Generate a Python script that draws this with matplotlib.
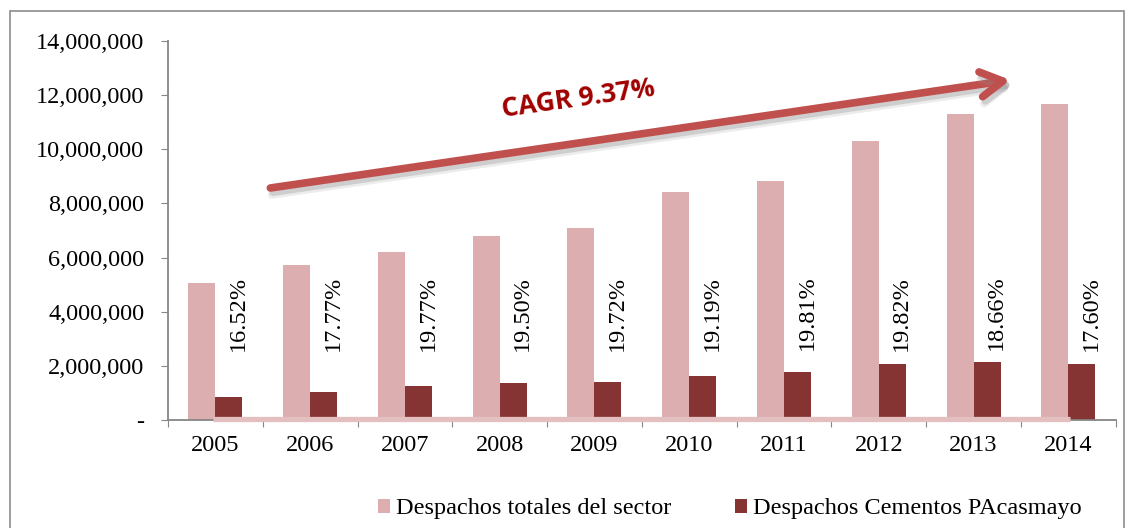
import matplotlib.pyplot as plt
import matplotlib.patheffects as pe
from matplotlib.patches import Rectangle
from matplotlib.ticker import FuncFormatter, FixedLocator
import numpy as np

years = ['2005', '2006', '2007', '2008', '2009', '2010', '2011', '2012', '2013', '2014']
sector = [5.06e6, 5.73e6, 6.19e6, 6.80e6, 7.08e6, 8.41e6, 8.83e6, 10.31e6, 11.30e6, 11.66e6]
pacasmayo = [0.86e6, 1.05e6, 1.25e6, 1.35e6, 1.41e6, 1.64e6, 1.76e6, 2.06e6, 2.13e6, 2.06e6]
shares = ['16.52%', '17.77%', '19.77%', '19.50%', '19.72%', '19.19%', '19.81%', '19.82%', '18.66%', '17.60%']
cagr_label = 'CAGR 9.37%'

pink = '#DCAEB0'
dark = '#863433'
grey = '#868686'

plt.rcParams['font.family'] = ['Liberation Serif', 'DejaVu Serif']

fig = plt.figure(figsize=(11.33, 5.28), dpi=100)
# outer frame
fig.patches.append(Rectangle((10 / 1133, -0.1), 1114 / 1133, 1.1 - 11 / 528,
                             transform=fig.transFigure, fill=False,
                             edgecolor='#8C8C8C', lw=1.2))
ax = fig.add_axes([168 / 1133, 108 / 528, 947.7 / 1133, 379 / 528])

x = np.arange(len(years))
w = 0.285
ax.bar(x - w / 2, sector, w, color=pink, label='Despachos totales del sector', zorder=2)
ax.bar(x + w / 2, pacasmayo, w, color=dark, label='Despachos Cementos PAcasmayo', zorder=2)

for i, s in enumerate(shares):
    ax.text(x[i] + w / 2 + 0.1, 3.95e6, s, rotation=90, ha='center', va='center',
            fontsize=17.5)

# pink band along the base
ax.plot([x[0] - 0.02, x[-1] + 0.02], [0.05e6, 0.05e6], color='#E3BFC0', lw=3.8,
        solid_capstyle='butt', zorder=4, clip_on=False)

ax.set_xlim(-0.5, len(years) - 0.5)
ax.set_ylim(0, 14e6)
ax.set_yticks(np.arange(0, 14.1e6, 2e6))
ax.yaxis.set_major_formatter(FuncFormatter(lambda v, p: '-' if v == 0 else f'{v:,.0f}'))
ax.xaxis.set_major_locator(FixedLocator(np.arange(-0.5, len(years), 1)))
ax.xaxis.set_major_formatter(FuncFormatter(lambda v, p: ''))
ax.set_xticks(x, minor=True)
ax.set_xticklabels(years, minor=True)
ax.tick_params(axis='x', which='minor', length=0, labelsize=17.5, pad=11)
ax.tick_params(axis='x', which='major', length=5, color=grey, direction='out')
ax.tick_params(axis='y', length=5, color=grey, labelsize=17.5, pad=12)

for sp in ['top', 'right']:
    ax.spines[sp].set_visible(False)
for sp in ['left', 'bottom']:
    ax.spines[sp].set_color(grey)
    ax.spines[sp].set_linewidth(1.3)

arr = ax.annotate('', xy=(8.39, 12.56e6), xytext=(0.58, 8.57e6),
                  arrowprops=dict(arrowstyle='->,head_length=1.6,head_width=0.9',
                                  lw=5.5, color='#C0504D', capstyle='round',
                                  joinstyle='round', shrinkA=0, shrinkB=0),
                  zorder=5)
arr.arrow_patch.set_path_effects([
    pe.SimpleLineShadow(offset=(1, -5), shadow_color='#999999', alpha=0.18),
    pe.SimpleLineShadow(offset=(2, -3), shadow_color='#777777', alpha=0.25),
    pe.Normal()])

ax.text(3.83, 11.85e6, cagr_label, rotation=8, ha='center', va='center',
        fontsize=19, fontweight='bold', color='#A00000',
        family=['Open Sans', 'DejaVu Sans'])

fig.legend(loc='center', bbox_to_anchor=(0.644, 0.036), ncol=2, frameon=False,
           fontsize=17.5, handlelength=0.5, handleheight=0.5, handletextpad=0.25,
           columnspacing=2.6)

fig.savefig('out.png', dpi=100)
